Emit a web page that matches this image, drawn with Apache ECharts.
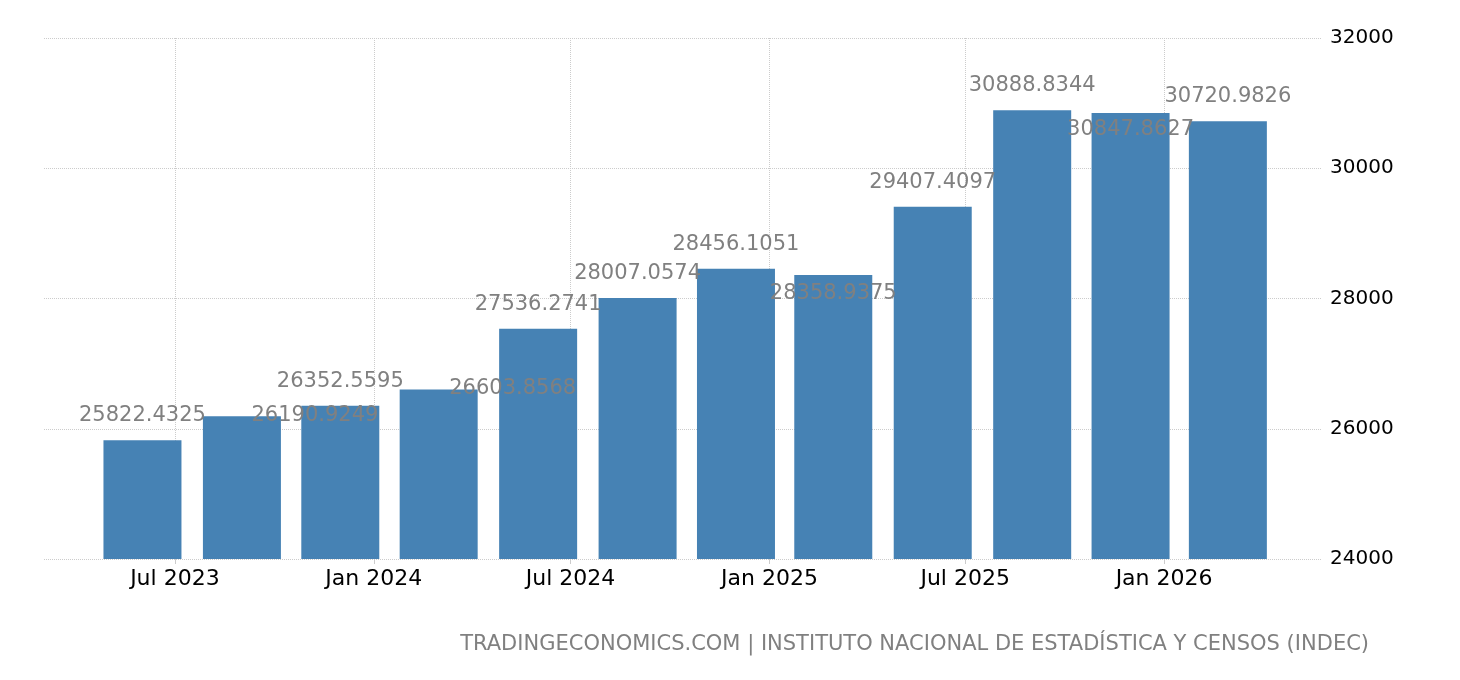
<!DOCTYPE html>
<html>
<head>
<meta charset="utf-8">
<script src="https://cdn.jsdelivr.net/npm/echarts@6/dist/echarts.min.js"></script>
<style>
    html, body { margin: 0; padding: 0; background: #fff; }
    #main { width: 1460px; height: 680px; }
</style>
</head>
<body>
<div id="main"></div>
<script>
// quarterly figures, one bar per quarter
var quarters = ['2023-06-01', '2023-09-01', '2023-12-01', '2024-03-01',
    '2024-06-01', '2024-09-01', '2024-12-01', '2025-03-01',
    '2025-06-01', '2025-09-01', '2025-12-01', '2026-03-01'];
var values = [25822.4325, 26190.9249, 26352.5595, 26603.8568,
    27536.2741, 28007.0574, 28456.1051, 28358.9375,
    29407.4097, 30888.8344, 30847.8627, 30720.9826];
var monthNames = ['Jan', 'Feb', 'Mar', 'Apr', 'May', 'Jun',
    'Jul', 'Aug', 'Sep', 'Oct', 'Nov', 'Dec'];
var yTicks = [24000, 26000, 28000, 30000, 32000];

function toTime(s) {
    var p = s.split('-');
    return new Date(+p[0], +p[1] - 1, +p[2]).getTime();
}

function chart() {
    var myChart = echarts.init(document.getElementById('main'));

    // labels that get pushed aside to avoid overlapping their neighbours
    var shifted = {1: [73, 24], 3: [74, 24], 7: [0, 43], 10: [0, 41]};

    var data = quarters.map(function (q, i) {
        var item = {value: [toTime(q), values[i]]};
        if (shifted[i]) {
            item.label = {offset: shifted[i]};
        }
        return item;
    });

    // echarts pads the time extent by half a bar on each side,
    // so the given range is a bit narrower than the visible one
    var option = {
        animation: false,
        textStyle: {fontFamily: 'DejaVu Sans'},
        title: {
            text: 'TRADINGECONOMICS.COM | INSTITUTO NACIONAL DE ESTADÍSTICA Y CENSOS (INDEC)',
            right: 86,
            top: 629,
            textStyle: {
                color: '#808080',
                fontSize: 21,
                fontWeight: 'normal',
                fontFamily: 'DejaVu Sans'
            }
        },
        grid: {
            left: 44,
            right: 138,
            top: 38,
            bottom: 121
        },
        xAxis: {
            type: 'time',
            min: toTime('2023-04-07'),
            max: toTime('2026-04-21'),
            minInterval: 181 * 86400000,
            maxInterval: 184 * 86400000,
            axisLine: {show: false},
            axisTick: {
                show: true,
                length: 5,
                lineStyle: {color: '#cccccc'}
            },
            axisLabel: {
                color: '#000',
                fontSize: 22,
                margin: 9,
                showMinLabel: false,
                showMaxLabel: false,
                formatter: function (v) {
                    var d = new Date(v);
                    return monthNames[d.getMonth()] + ' ' + d.getFullYear();
                }
            },
            splitLine: {
                show: true,
                showMinLine: false,
                showMaxLine: false,
                lineStyle: {color: '#cccccc', type: 'dotted'}
            }
        },
        yAxis: {
            type: 'value',
            position: 'right',
            min: yTicks[0],
            max: yTicks[yTicks.length - 1],
            interval: yTicks[1] - yTicks[0],
            axisLine: {show: false},
            axisTick: {show: false},
            axisLabel: {
                color: '#000',
                fontSize: 20,
                margin: 8,
                formatter: function (v) {
                    return String(v);
                }
            },
            splitLine: {
                lineStyle: {color: '#cccccc', type: 'dotted'}
            }
        },
        series: [{
            type: 'bar',
            barWidth: 78,
            itemStyle: {color: '#4682b4'},
            label: {
                show: true,
                position: 'top',
                distance: 14,
                color: '#808080',
                fontSize: 21,
                formatter: function (p) {
                    return p.value[1].toFixed(4);
                }
            },
            data: data
        }]
    };
    myChart.setOption(option);
}
chart();
</script>
</body>
</html>
